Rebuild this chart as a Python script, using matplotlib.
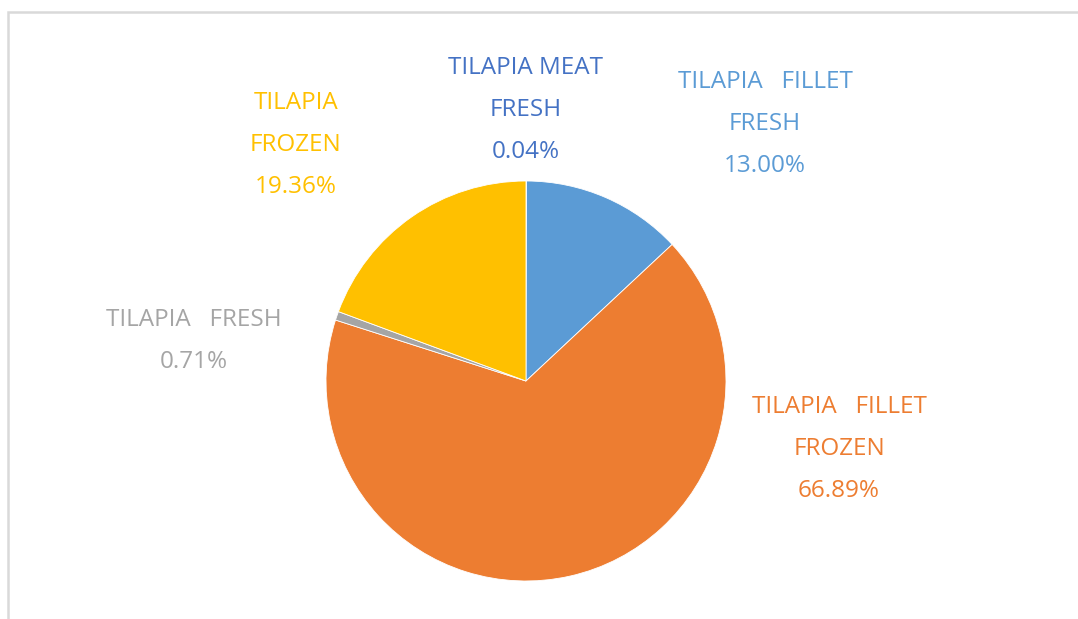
import matplotlib.pyplot as plt
from matplotlib.patches import Rectangle

labels = ["TILAPIA MEAT\nFRESH", "TILAPIA   FILLET\nFRESH", "TILAPIA   FILLET\nFROZEN",
          "TILAPIA   FRESH", "TILAPIA\nFROZEN"]
shares = [0.04, 13.00, 66.89, 0.71, 19.36]
colors = ["#4472C4", "#5B9BD5", "#ED7D31", "#A5A5A5", "#FFC000"]

# label centres in pixel coords (from top-left)
label_pos = [(526, 110), (765, 124), (839, 449), (194, 341), (296, 145)]

W, H = 1078, 619
fig = plt.figure(figsize=(W / 100, H / 100), dpi=100)
ax = fig.add_axes([0, 0, 1, 1])

# chart frame (cropped at right and bottom)
ax.add_patch(Rectangle((8, -20), W + 20, H - 12 + 20, fill=False,
                       edgecolor="#D9D9D9", linewidth=1.8))

ax.pie(shares, colors=colors, startangle=90, counterclock=False,
       center=(526, H - 381), radius=200, frame=True,
       wedgeprops=dict(linewidth=0.6, edgecolor="white"))
ax.set_xlim(0, W)
ax.set_ylim(0, H)
ax.set_aspect("equal")
ax.axis("off")

for lab, val, col, (x, y) in zip(labels, shares, colors, label_pos):
    ax.text(x, H - y, f"{lab}\n{val:.2f}%", color=col, ha="center", va="center",
            fontsize=17.5, family="Open Sans", linespacing=2.0)

plt.savefig("out.png", dpi=100)
